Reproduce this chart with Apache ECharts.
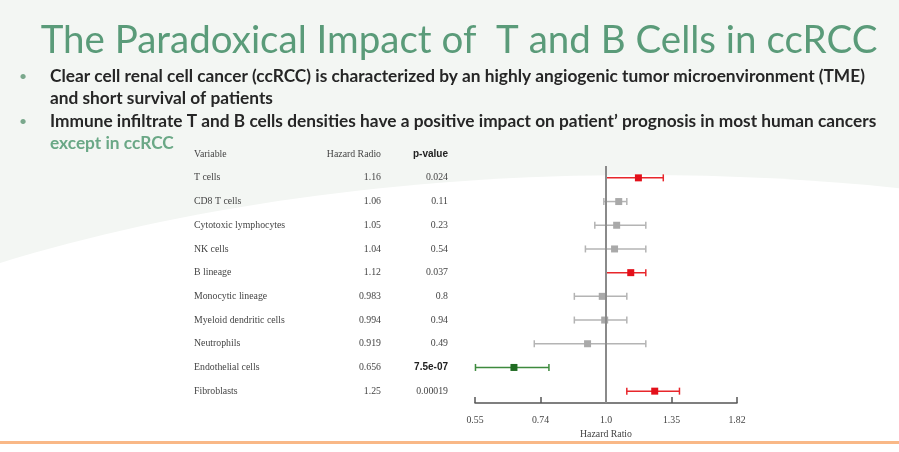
<!DOCTYPE html>
<html>
<head>
<meta charset="utf-8">
<script src="https://cdn.jsdelivr.net/npm/echarts@6/dist/echarts.min.js"></script>
<style>
  html, body { margin: 0; padding: 0; background: #fff; }
  #chart { width: 899px; height: 452px; }
</style>
</head>
<body>
<div id="chart"></div>
<script>
var variables = ['T cells', 'CD8 T cells', 'Cytotoxic lymphocytes', 'NK cells', 'B lineage',
  'Monocytic lineage', 'Myeloid dendritic cells', 'Neutrophils', 'Endothelial cells', 'Fibroblasts'];
var hazardRatio = [1.16, 1.06, 1.05, 1.04, 1.12, 0.983, 0.994, 0.919, 0.656, 1.25];
var ciLow = [1.0, 0.99, 0.95, 0.91, 1.0, 0.865, 0.865, 0.72, 0.55, 1.10];
var ciHigh = [1.30, 1.10, 1.20, 1.20, 1.20, 1.10, 1.10, 1.20, 0.77, 1.40];
var pValues = ['0.024', '0.11', '0.23', '0.54', '0.037', '0.8', '0.94', '0.49', '7.5e-07', '0.00019'];
var tickLabels = ['0.55', '0.74', '1.0', '1.35', '1.82'];

var bullets = [
  'Clear cell renal cell cancer (ccRCC) is characterized by an highly angiogenic tumor microenvironment (TME)',
  'and short survival of patients',
  'Immune infiltrate T and B cells densities have a positive impact on patient\u2019 prognosis in most human cancers'
];

var logBase = Math.exp(0.3);
var serif = 'Liberation Serif';

function rowColor(i) {
  var p = parseFloat(pValues[i]);
  if (p < 0.05 && hazardRatio[i] > 1) return { line: '#e8262b', point: '#e3101a' };
  if (p < 0.05) return { line: '#3d8a3d', point: '#1f6b22' };
  return { line: '#b4b4b4', point: '#a9a9a9' };
}

function renderItem(params, api) {
  var row = api.value(1);
  var lo = api.coord([api.value(2), row]);
  var hi = api.coord([api.value(3), row]);
  var mid = api.coord([api.value(0), row]);
  var c = rowColor(params.dataIndex);
  var cap = 3.5, sq = 3.5;
  var st = { stroke: c.line, lineWidth: 1.5 };
  return {
    type: 'group',
    children: [
      { type: 'line', shape: { x1: lo[0], y1: lo[1], x2: hi[0], y2: hi[1] }, style: st },
      { type: 'line', shape: { x1: lo[0], y1: lo[1] - cap, x2: lo[0], y2: lo[1] + cap }, style: st },
      { type: 'line', shape: { x1: hi[0], y1: hi[1] - cap, x2: hi[0], y2: hi[1] + cap }, style: st },
      { type: 'rect', shape: { x: mid[0] - sq, y: mid[1] - sq, width: sq * 2, height: sq * 2 }, style: { fill: c.point } }
    ]
  };
}

var chart = echarts.init(document.getElementById('chart'));

var labelStyle = { fontFamily: serif, fontSize: 9.8, color: '#444' };
function tableAxis(data, offset, name, extra) {
  var ax = {
    type: 'category', data: data, inverse: true, position: 'left', offset: offset,
    name: name, nameLocation: 'start', nameGap: 7,
    nameTextStyle: { fontFamily: serif, fontSize: 9.8, color: '#444', align: 'right' },
    axisLine: { show: false }, axisTick: { show: false }, splitLine: { show: false },
    axisLabel: Object.assign({ margin: 0 }, labelStyle)
  };
  return Object.assign(ax, extra || {});
}

var bulletFont = 'bold 17.3px Lato';

var option = {
  backgroundColor: '#f3f6f3',
  animation: false,
  graphic: [
    { type: 'ellipse', z: -100, silent: true, shape: { cx: 640, cy: 646, rx: 1100, ry: 471 }, style: { fill: '#ffffff' } },
    { type: 'rect', z: -90, silent: true, shape: { x: 0, y: 441, width: 899, height: 3 }, style: { fill: '#f9b887' } },
    { type: 'rect', z: -90, silent: true, shape: { x: 0, y: 444, width: 899, height: 8 }, style: { fill: '#ffffff' } },
    { type: 'text', x: 459, y: 41, style: { text: 'The Paradoxical Impact of  T and B Cells in ccRCC', font: '38.5px Lato', fill: '#5a9b79', textAlign: 'center', textVerticalAlign: 'middle' } },
    { type: 'text', x: 19, y: 76, style: { text: '\u2022', font: '14px Lato', fill: '#7aa88c', textVerticalAlign: 'middle' } },
    { type: 'text', x: 50, y: 76, style: { text: bullets[0], font: bulletFont, fill: '#262626', textVerticalAlign: 'middle' } },
    { type: 'text', x: 50, y: 98, style: { text: bullets[1], font: bulletFont, fill: '#262626', textVerticalAlign: 'middle' } },
    { type: 'text', x: 19, y: 121, style: { text: '\u2022', font: '14px Lato', fill: '#7aa88c', textVerticalAlign: 'middle' } },
    { type: 'text', x: 50, y: 121, style: { text: bullets[2], font: bulletFont, fill: '#262626', textVerticalAlign: 'middle' } },
    { type: 'text', x: 50, y: 143, style: { text: 'except in ccRCC', font: bulletFont, fill: '#6aa886', textVerticalAlign: 'middle' } }
  ],
  grid: { left: 475, right: 162, top: 166, bottom: 49 },
  xAxis: {
    type: 'log', logBase: logBase,
    min: Math.pow(logBase, -2), max: Math.pow(logBase, 2),
    name: 'Hazard Ratio', nameLocation: 'middle', nameGap: 26,
    nameTextStyle: { fontFamily: serif, fontSize: 9.8, color: '#444' },
    axisLine: { show: true, onZero: false, lineStyle: { color: '#555', width: 1.5 } },
    axisTick: { show: true, inside: true, length: 6, lineStyle: { color: '#555', width: 1.5 } },
    axisLabel: {
      margin: 12, fontFamily: serif, fontSize: 9.8, color: '#444', showMinLabel: true, showMaxLabel: true,
      formatter: function (v, i) { return tickLabels[i]; }
    },
    splitLine: { show: false }
  },
  yAxis: [
    tableAxis(variables, 281, 'Variable', {
      nameTextStyle: { fontFamily: serif, fontSize: 9.8, color: '#444', align: 'left' },
      axisLabel: Object.assign({ margin: 0, align: 'left' }, labelStyle)
    }),
    tableAxis(hazardRatio.map(String), 94, 'Hazard Radio'),
    tableAxis(pValues, 27, 'p-value', {
      nameTextStyle: { fontFamily: 'Liberation Sans', fontWeight: 'bold', fontSize: 10, color: '#222', align: 'right' },
      axisLabel: Object.assign({
        margin: 0,
        formatter: function (v) { return parseFloat(v) < 1e-5 ? '{b|' + v + '}' : v; },
        rich: { b: { fontFamily: 'Liberation Sans', fontWeight: 'bold', fontSize: 10, color: '#222' } }
      }, labelStyle)
    })
  ],
  series: [{
    type: 'custom',
    renderItem: renderItem,
    encode: { x: [0, 2, 3], y: 1 },
    data: variables.map(function (v, i) { return [hazardRatio[i], i, ciLow[i], ciHigh[i]]; }),
    markLine: {
      silent: true, symbol: 'none', label: { show: false },
      lineStyle: { color: '#8a8a8a', width: 2, type: 'solid' },
      data: [{ xAxis: 1 }]
    }
  }]
};

chart.setOption(option);
</script>
</body>
</html>
